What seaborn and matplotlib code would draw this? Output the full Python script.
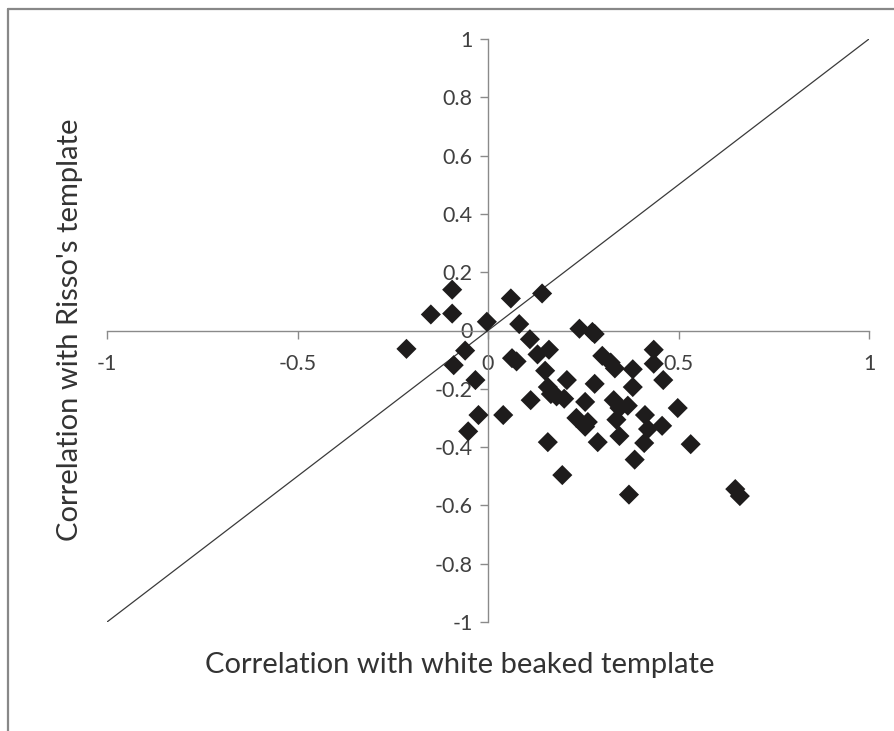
import matplotlib
matplotlib.use("Agg")
import matplotlib.pyplot as plt
import seaborn as sns
import pandas as pd
from matplotlib.lines import Line2D

# Data
white_beaked = [-0.214, -0.150, -0.094, -0.094, -0.090, -0.060, -0.033, -0.025, -0.052, -0.003,
                0.040, 0.060, 0.063, 0.075, 0.082, 0.110, 0.112, 0.142, 0.130, 0.160,
                0.150, 0.157, 0.165, 0.180, 0.200, 0.207, 0.157, 0.195, 0.240, 0.274,
                0.280, 0.255, 0.232, 0.262, 0.255, 0.280, 0.300, 0.322, 0.333, 0.288,
                0.330, 0.345, 0.337, 0.345, 0.367, 0.380, 0.380, 0.370, 0.385, 0.412,
                0.420, 0.410, 0.435, 0.435, 0.460, 0.457, 0.498, 0.532, 0.649, 0.661]
risso = [-0.063, 0.055, 0.140, 0.058, -0.119, -0.069, -0.170, -0.290, -0.346, 0.030,
         -0.290, 0.110, -0.095, -0.106, 0.022, -0.030, -0.239, 0.127, -0.082, -0.066,
         -0.138, -0.194, -0.218, -0.226, -0.234, -0.170, -0.383, -0.496, 0.006, -0.005,
         -0.012, -0.245, -0.300, -0.314, -0.330, -0.183, -0.087, -0.110, -0.130, -0.383,
         -0.239, -0.266, -0.306, -0.362, -0.258, -0.133, -0.194, -0.563, -0.443, -0.290,
         -0.338, -0.386, -0.066, -0.114, -0.170, -0.327, -0.266, -0.390, -0.544, -0.568]
x_ticks = [-1, -0.5, 0, 0.5, 1]
x_tick_labels = ["-1", "-0.5", "0", "0.5", "1"]
y_ticks = [-1, -0.8, -0.6, -0.4, -0.2, 0, 0.2, 0.4, 0.6, 0.8, 1]
y_tick_labels = ["-1", "-0.8", "-0.6", "-0.4", "-0.2", "0", "0.2", "0.4", "0.6", "0.8", "1"]
line_x = [-1, 1]
line_y = [-1, 1]

df = pd.DataFrame({"x": white_beaked, "y": risso})

sns.set_style("white")
plt.rcParams["font.family"] = ["Lato", "DejaVu Sans"]

fig = plt.figure(figsize=(8.94, 7.31), dpi=100)
ax = fig.add_axes([107 / 894, 1 - 622 / 731, (869 - 107) / 894, (622 - 39) / 731])

sns.lineplot(x=line_x, y=line_y, ax=ax, color="#3a3a3a", linewidth=0.9, zorder=2)
sns.scatterplot(data=df, x="x", y="y", ax=ax, marker="D", s=105, color="#1e1c1c",
                edgecolor="none", linewidth=0, zorder=3, clip_on=False)

ax.set_xlim(-1, 1)
ax.set_ylim(-1, 1)
for side in ["top", "right"]:
    ax.spines[side].set_visible(False)
ax.spines["left"].set_position("zero")
ax.spines["bottom"].set_position("zero")
for side in ["left", "bottom"]:
    ax.spines[side].set_color("#8a8a8a")
    ax.spines[side].set_linewidth(1.0)
    ax.spines[side].set_zorder(1)

ax.set_xticks(x_ticks)
ax.set_xticklabels(x_tick_labels)
ax.set_yticks(y_ticks)
ax.set_yticklabels(y_tick_labels)
ax.tick_params(axis="x", direction="out", length=6, width=1, color="#8a8a8a",
               labelsize=15.5, labelcolor="#404040", pad=11, bottom=True)
ax.tick_params(axis="y", direction="out", length=6, width=1, color="#8a8a8a",
               labelsize=15.5, labelcolor="#404040", pad=5, left=True)
ax.set_xlabel("")
ax.set_ylabel("")
ax.patch.set_alpha(0)

fig.text(460 / 894, 1 - 665 / 731, "Correlation with white beaked template",
         ha="center", va="center", fontsize=21, color="#333333")
fig.text(70 / 894, 1 - 330 / 731, "Correlation with Risso's template",
         ha="center", va="center", fontsize=21, color="#333333", rotation=90)

# Partial frame (left and top edges)
fig.add_artist(Line2D([8 / 894, 8 / 894], [0, 1 - 9 / 731], transform=fig.transFigure,
                      color="#888888", linewidth=1.6))
fig.add_artist(Line2D([8 / 894, 1], [1 - 9 / 731, 1 - 9 / 731], transform=fig.transFigure,
                      color="#888888", linewidth=1.6))

fig.savefig("out.png", dpi=100)
